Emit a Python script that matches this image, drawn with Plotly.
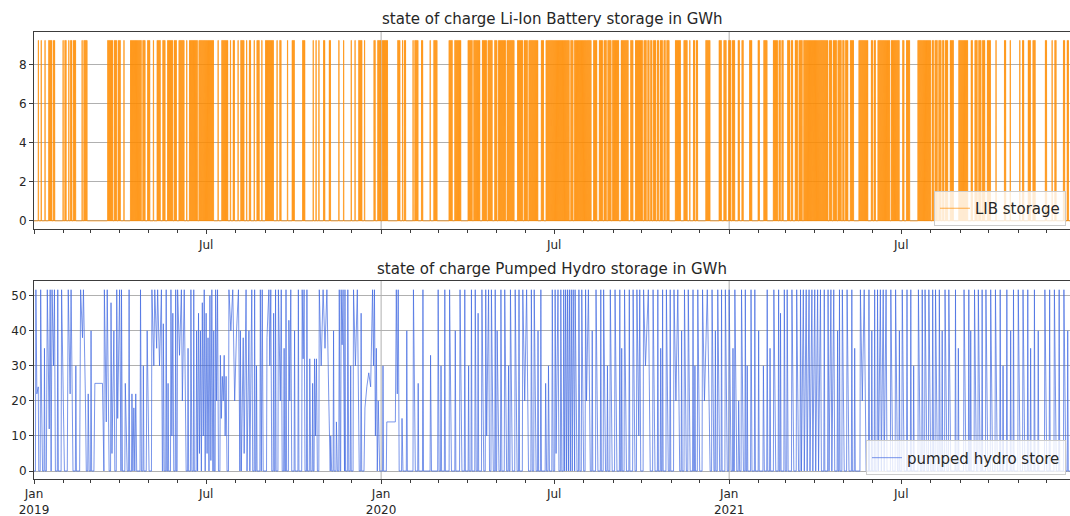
import pandas as pd
import plotly.graph_objects as go

# ---------------------------------------------------------------------------
# Data: days counted from 2019-01-01
# ---------------------------------------------------------------------------
start = pd.Timestamp("2019-01-01")
end_day = 1089.4                      # last visible day of the x axis

lib_capacity = 9.25                   # GWh, full Li-Ion state of charge
phs_capacity = 51.7                   # GWh, full pumped hydro state of charge

# periods (first day, last day) in which the Li-Ion battery is fully cycled every day
lib_runs_2019 = [(4, 4), (7, 7), (11, 11), (15, 18), (20, 21), (30, 30), (32, 33), (36, 36),
                 (38, 39), (41, 43), (50, 50), (52, 55), (77, 82), (84, 86), (88, 90), (94, 94),
                 (101, 112), (114, 116), (119, 121), (125, 125), (129, 132), (135, 137),
                 (140, 145), (147, 149), (152, 157), (160, 160), (163, 171), (173, 188),
                 (193, 193), (197, 203), (206, 206), (209, 210), (214, 214), (217, 220),
                 (223, 223), (226, 227), (231, 231), (234, 236), (239, 239), (243, 251),
                 (255, 255), (258, 259), (266, 266), (271, 273), (282, 284), (293, 293),
                 (296, 296), (299, 299), (304, 305), (310, 311), (320, 320), (325, 325),
                 (333, 333), (337, 337), (341, 344), (347, 347), (357, 358), (361, 364)]
lib_runs_2020 = [(366, 371), (382, 384), (387, 387), (389, 390), (398, 398), (400, 403),
                 (407, 408), (416, 416), (420, 423), (436, 439), (442, 448), (456, 460),
                 (462, 468), (471, 475), (477, 481), (484, 486), (488, 495), (497, 504),
                 (508, 513), (515, 518), (520, 529), (533, 535), (538, 562), (564, 566),
                 (568, 585), (588, 591), (594, 597), (599, 601), (603, 606), (608, 614),
                 (617, 624), (627, 629), (632, 639), (641, 643), (645, 646), (648, 649),
                 (651, 653), (655, 656), (658, 660), (662, 663), (665, 667), (674, 679),
                 (683, 686), (689, 689), (693, 694), (696, 697), (706, 710), (720, 722),
                 (725, 727), (730, 730)]
lib_runs_2021 = [(731, 732), (734, 736), (740, 741), (744, 745), (752, 754), (761, 762),
                 (767, 770), (777, 781), (783, 784), (786, 787), (792, 794), (796, 797),
                 (800, 802), (804, 807), (809, 834), (836, 838), (840, 843), (845, 848),
                 (850, 851), (853, 855), (858, 861), (867, 876), (880, 881), (883, 884),
                 (887, 899), (901, 909), (913, 914), (917, 920), (929, 942), (944, 945),
                 (947, 949), (951, 953), (955, 956), (958, 960), (963, 966), (972, 981),
                 (985, 986), (989, 991), (993, 995), (997, 999), (1002, 1005), (1011, 1011),
                 (1020, 1021), (1026, 1026), (1036, 1036), (1039, 1040), (1045, 1047),
                 (1050, 1052), (1063, 1064), (1070, 1070), (1073, 1074), (1082, 1083),
                 (1086, 1087)]

P = phs_capacity
# pumped hydro state of charge, turning points (day, GWh)
phs_2019 = [(0, 0), (1.5, 0), (2, P), (3, 22), (4.5, 24), (5, 0), (6.5, 0), (7, P), (8, 20), (9, 0),
            (13, 0), (14, P), (16, 12), (17, P), (18, 0), (19, P), (20.5, 30), (21.5, P), (22.5, 0),
            (28.5, 0), (29, P), (31, 20), (32, 0),
            (35, 0), (36, P), (38, 22), (39, P), (41, 0),
            (48, 0), (49, P), (51, 38), (52, P), (54, 22), (55, 0),
            (56.5, 0), (57, 22), (58, 0),
            (63, 0), (64, 25), (72, 25), (73, 0),
            (73.5, 0), (74, P), (76, 14), (77, P), (79, 0),
            (80.5, 0), (81, 48), (82, 5), (84, 40), (85, 0), (86.5, 0), (87, P), (88, 15), (90, P), (91, 0),
            (91.5, 0), (92, P), (93, 0),
            (95.5, 0), (96, 25), (98, 0),
            (102.5, 0), (103, 22), (104, 0), (105, 18), (106, 0), (107, 22), (108, 0),
            (111.5, 0), (112, P), (113, 0),
            (118, 0), (119, 40), (121, 0),
            (123.5, 0), (124, P), (126, 30), (127, P), (129, 35), (130, P), (132, 30), (134, P), (135, 0),
            (135.5, 0), (136, 42), (137, 0),
            (143.5, 0), (144, P), (145, 10), (146, 45), (147, 0),
            (150.5, 0), (151, P), (153, 33), (155, P), (156, 20), (158, P), (160, 0),
            (164.5, 0), (165, P), (166, 0),
            (170.5, 0), (171, 40), (172, 0), (173, 45), (174, 5), (175, 40), (176, 0), (177, 48),
            (178, 10), (179, P), (180, 0), (181, 45), (182, 5), (183, 38), (184, 0), (185, 50),
            (186, 3), (187, P), (188, 0),
            (190.5, 0), (191, P), (192, 20), (193, P), (194, 0),
            (195.5, 0), (196, 33), (197, 15), (198, 27), (199, 20), (200, 33), (201, 10), (202, 27), (203, 0),
            (204.5, 0), (205, P), (207, 40), (209, P), (211, 20), (213, 40), (215, P), (216, 0),
            (216.5, 0), (217, 40), (218, 0), (220, 38), (221, 5), (223, P), (224, 0), (226, 40),
            (227, 0), (229, P), (230, 0),
            (237.5, 0), (238, P), (239, 0), (240, P), (241, 0),
            (244.5, 0), (245, 38), (247, P), (248, 30), (249, P), (250, 0),
            (256.5, 0), (257, P), (259, 20), (260, P), (261, 0),
            (267.5, 0), (268, 43), (269, 20), (270, P), (271, 0),
            (281.5, 0), (282, P), (283, 32), (284, P), (285, 0),
            (289.5, 0), (290, 32), (291, 0),
            (294.5, 0), (295, 32), (296, 10), (297, 32), (298, 0),
            (299.5, 0), (300, P), (302, 30), (304, P), (306, 35), (308, P), (310, 20), (311, 0),
            (311.5, 0), (312, 10), (313, 0),
            (317.5, 0), (318, 14), (319, 0), (320.5, 0), (321, P), (322, 0),
            (322.5, 0), (323, P), (324, 36), (325, P), (326, 0),
            (329.5, 0), (330, P), (331, 0),
            (335.5, 0), (336, P), (338, 30), (340, P), (342, 0),
            (347, 0), (348, 18), (350, 24), (352, 28), (354, 24), (356, P), (357, 30), (358, P),
            (359, 10), (360, 35), (361, 0), (362, 20), (363.5, 0)]
phs_2020 = [(370.5, 0), (371, 14), (380, 14), (381, P), (382, 22), (383, P), (384, 0),
            (386.5, 0), (387, 15), (388, 0),
            (398.5, 0), (399, P), (401, 0),
            (416.5, 0), (417, 33), (418, 0),
            (424.5, 0), (425, P), (426, 0),
            (436.5, 0), (437, P), (439, 0),
            (447.5, 0), (448, P), (450, 0),
            (463.5, 0), (464, P), (465, 0),
            (470.5, 0), (471, P), (473, 0), (474.5, 0), (475, P), (476, 10), (478, P), (479, 0),
            (480.5, 0), (481, P), (483, 0),
            (486.5, 0), (487, 40), (489, 0), (490.5, 0), (491, P), (492, 0), (494.5, 0), (495, P), (497, 0),
            (500.5, 0), (501, P), (503, 0), (505.5, 0), (506, P), (508, 0),
            (513.5, 0), (514, P), (516, 20), (518, P), (520, 0), (522.5, 0), (523, P), (524, 0),
            (525.5, 0), (526, P), (528, 0),
            (537.5, 0), (538, 25), (539, 0), (540.5, 0), (541, 30), (542, 0),
            (544.5, 0), (545, P), (546, 0), (547.5, 0), (548, P), (549, 5), (551, P), (552, 0),
            (553.5, 0), (554, P), (555, 0),
            (556.5, 0), (557, P), (558, 0), (559, P), (560, 0), (561, P), (562, 0), (563, P),
            (564, 0), (565, P), (566, 0), (567, P), (568, 0),
            (568.5, 0), (569, P), (571, 0), (572.5, 0), (573, P), (574, 0), (575.5, 0), (576, P),
            (578, 0), (579.5, 0), (580, P), (581, 20), (583, P), (585, 0),
            (590.5, 0), (591, P), (593, 0),
            (598.5, 0), (599, P), (601, 0),
            (605.5, 0), (606, P), (608, 0), (610.5, 0), (611, P), (613, 0),
            (620.5, 0), (621, P), (623, 0),
            (629.5, 0), (630, P), (632, 0), (633.5, 0), (634, P), (636, 10), (637, P), (638, 0),
            (640.5, 0), (641, P), (643, 30), (646, P), (648, 0),
            (650.5, 0), (651, P), (653, 0),
            (664.5, 0), (665, P), (667, 0),
            (672.5, 0), (673, P), (675, 20), (677, P), (679, 0),
            (683.5, 0), (684, P), (686, 0), (687.5, 0), (688, P), (690, 0),
            (697.5, 0), (698, P), (700, 0), (702.5, 0), (703, P), (705, 20), (708, P), (711, 0)]
phs_2021 = [(712.5, 0), (713, P), (715, 0),
            (718.5, 0), (719, P), (721, 0),
            (726.5, 0), (727, P), (729, 0), (730.5, 0), (731, P), (733, 0),
            (736.5, 0), (737, P), (739, 0), (740.5, 0), (741, 20), (742, 0), (743.5, 0), (744, P), (746, 0),
            (753.5, 0), (754, P), (755, 0),
            (766.5, 0), (767, 30), (768, 0),
            (777.5, 0), (778, P), (780, 0),
            (788.5, 0), (789, P), (790, 0), (791.5, 0), (792, P), (793, 0),
            (796.5, 0), (797, P), (799, 0), (801.5, 0), (802, P), (804, 0),
            (805.5, 0), (806, P), (807, 0), (809, P), (810, 0), (812, P), (813, 0), (815, P),
            (816, 0), (818, P), (819, 0), (821, P), (822, 0), (824, P), (825, 0), (827, P), (828, 0),
            (834.5, 0), (835, P), (836, 0), (838, P), (839, 0), (841, P), (842, 0),
            (849.5, 0), (850, P), (852, 0), (854.5, 0), (855, P), (857, 0),
            (868.5, 0), (869, P), (871, 20), (873, P), (875, 0),
            (886.5, 0), (887, P), (888, 0), (890, P), (891, 0), (893, P), (894, 0), (896, P), (897, 0),
            (900.5, 0), (901, P), (903, 0), (905.5, 0), (906, P), (908, 0),
            (912.5, 0), (913, P), (915, 0),
            (929.5, 0), (930, P), (932, 0), (933.5, 0), (934, P), (935, 0), (936.5, 0), (937, P),
            (939, 0), (940.5, 0), (941, P), (943, 0), (944.5, 0), (945, P), (946, 0), (947.5, 0),
            (948, P), (950, 0), (951.5, 0), (952, P), (953, 0),
            (957.5, 0), (958, P), (960, 0), (961.5, 0), (962, P), (964, 0),
            (977.5, 0), (978, P), (980, 0),
            (988.5, 0), (989, P), (991, 0), (992.5, 0), (993, P), (995, 0),
            (1000.5, 0), (1001, P), (1003, 0), (1005.5, 0), (1006, P), (1008, 0), (1010.5, 0),
            (1011, P), (1013, 0),
            (1034.5, 0), (1035, P), (1037, 0), (1039.5, 0), (1040, P), (1042, 0),
            (1062.5, 0), (1063, P), (1065, 0),
            (1072.5, 0), (1073, P), (1075, 0),
            (1082.5, 0), (1083, P), (1085, 0), (1090, 0)]

# short single fill-and-empty excursions of the pumped hydro store (day, peak GWh)
phs_spikes_2019 = [(11, 35), (25, P), (44, 30), (60, 40), (100, P), (115, 30), (139, P),
                   (141, 25), (149, P), (162, 35), (168, P), (189, 40), (232, P), (234, 30),
                   (252, 45), (254, P), (263, 35), (265, P), (274, 40), (278, P), (287, P),
                   (293, 25), (315, 40), (327, P), (333, 30), (344, 45)]
phs_spikes_2020 = [(367, 30), (392, 40), (404, 25), (409, P), (428, 30), (432, P), (443, 40),
                   (453, P), (457, 30), (460, P), (467, 45), (485, P), (499, 30), (510, P),
                   (530, 40), (533, P), (587, 40), (596, P), (603, 30), (616, P), (618, 35),
                   (626, P), (656, P), (659, 35), (661, P), (669, P), (681, 40), (693, P),
                   (695, 30)]
phs_spikes_2021 = [(716.5, 40), (723, P), (735, 35), (748, P), (750, 30), (758, P), (762, 40),
                   (771, P), (774, 35), (783, P), (785, 45), (831, P), (845, 40), (847, P),
                   (860, P), (863, 35), (878, P), (881, 40), (884, P), (910, 40), (918, P),
                   (922, P), (925, 30), (955, 40), (969, P), (972, 35), (983, P), (985, 40),
                   (997, P), (1016, P), (1019, 30), (1023, P), (1027, 40), (1030, P), (1045, P),
                   (1048, 35), (1052, P), (1056, 40), (1068, P), (1078, P), (1087, 40)]

x_tick_dates = ["2019-01-01", "2019-07-01", "2020-01-01", "2020-07-01", "2021-01-01", "2021-07-01"]
x_tick_text = ["Jan<br>2019", "Jul", "Jan<br>2020", "Jul", "Jan<br>2021", "Jul"]
x_tick_text_top = ["", "Jul", "", "Jul", "", "Jul"]
year_grid = ["2020-01-01", "2021-01-01"]
lib_yticks = [0, 2, 4, 6, 8]
phs_yticks = [0, 10, 20, 30, 40, 50]


def to_time(days):
    return start + pd.to_timedelta(pd.Series(days, dtype=float), unit="D")


# Li-Ion: charge around midday, discharge in the evening on each active day
lib_days, lib_soc = [0.0], [0.0]
for run in lib_runs_2019 + lib_runs_2020 + lib_runs_2021:
    for d in range(run[0], run[1] + 1):
        lib_days += [d + 0.375, d + 0.5, d + 0.75, d + 0.875]
        lib_soc += [0.0, lib_capacity, lib_capacity, 0.0]
lib_days.append(1090.0)
lib_soc.append(0.0)

# pumped hydro: turning points plus the short excursions, in time order
phs_points = list(phs_2019 + phs_2020 + phs_2021)
for d, peak in phs_spikes_2019 + phs_spikes_2020 + phs_spikes_2021:
    phs_points += [(d - 0.5, 0.0), (d, peak), (d + 0.6, 0.0)]
phs_points.sort(key=lambda p: p[0])
phs_days = [p[0] for p in phs_points]
phs_soc = [p[1] for p in phs_points]

ORANGE = "#ff8c00"
BLUE = "#4169e1"
SPINE = "#3c3c3c"
GRID = "#b0b0b0"

fig = go.Figure()
fig.add_trace(go.Scatter(x=to_time(lib_days), y=lib_soc, mode="lines", name="LIB storage",
                         line=dict(color=ORANGE, width=0.7), xaxis="x", yaxis="y",
                         legend="legend"))
fig.add_trace(go.Scatter(x=to_time(phs_days), y=phs_soc, mode="lines", name="pumped hydro store",
                         line=dict(color=BLUE, width=0.7), xaxis="x2", yaxis="y2",
                         legend="legend2"))

x_range = [start, start + pd.Timedelta(days=end_day)]
common_x = dict(range=x_range, showgrid=False, showline=True, mirror=True, linecolor=SPINE,
                linewidth=1, ticks="outside", ticklen=4, tickcolor=SPINE, tickvals=x_tick_dates,
                zeroline=False,
                minor=dict(dtick="M1", tick0="2019-01-01", ticks="outside", ticklen=2.5,
                           tickcolor=SPINE, showgrid=False))
common_y = dict(showgrid=True, gridcolor=GRID, gridwidth=1, showline=True, mirror=False,
                linecolor=SPINE, linewidth=1, ticks="outside", ticklen=4, tickcolor=SPINE,
                zeroline=False)

legend_style = dict(bgcolor="rgba(255,255,255,0.8)", bordercolor="#cccccc", borderwidth=1,
                    font=dict(size=15, color="#262626"), xanchor="right", yanchor="bottom",
                    x=0.9961, itemwidth=30)

fig.update_layout(
    width=1070, height=516,
    margin=dict(l=34, r=0, t=32, b=37),
    paper_bgcolor="white", plot_bgcolor="white",
    font=dict(family="DejaVu Sans", size=12, color="#262626"),
    xaxis=dict(common_x, anchor="y", domain=[0, 1], ticktext=x_tick_text_top),
    yaxis=dict(common_y, anchor="x", domain=[0.5586, 1], range=[-0.43, 9.68], tickvals=lib_yticks),
    xaxis2=dict(common_x, anchor="y2", domain=[0, 1], ticktext=x_tick_text),
    yaxis2=dict(common_y, anchor="x2", domain=[0, 0.4436], range=[-2.28, 54.28], tickvals=phs_yticks),
    legend=dict(legend_style, y=0.566),
    legend2=dict(legend_style, y=0.008),
    showlegend=True,
)

# year gridlines
for xa, ya in (("x", "y"), ("x2", "y2")):
    for g in year_grid:
        fig.add_shape(type="line", xref=xa, yref=f"{ya} domain", x0=g, x1=g, y0=0, y1=1,
                      line=dict(color=GRID, width=1), layer="below")

fig.add_annotation(text="state of charge Li-Ion Battery storage in GWh", xref="paper", yref="paper",
                   x=0.5, y=1.029, xanchor="center", yanchor="middle", showarrow=False,
                   font=dict(size=15, color="#262626"))
fig.add_annotation(text="state of charge Pumped Hydro storage in GWh", xref="paper", yref="paper",
                   x=0.5, y=0.4698, xanchor="center", yanchor="middle", showarrow=False,
                   font=dict(size=15, color="#262626"))

fig.write_html("out.html")
